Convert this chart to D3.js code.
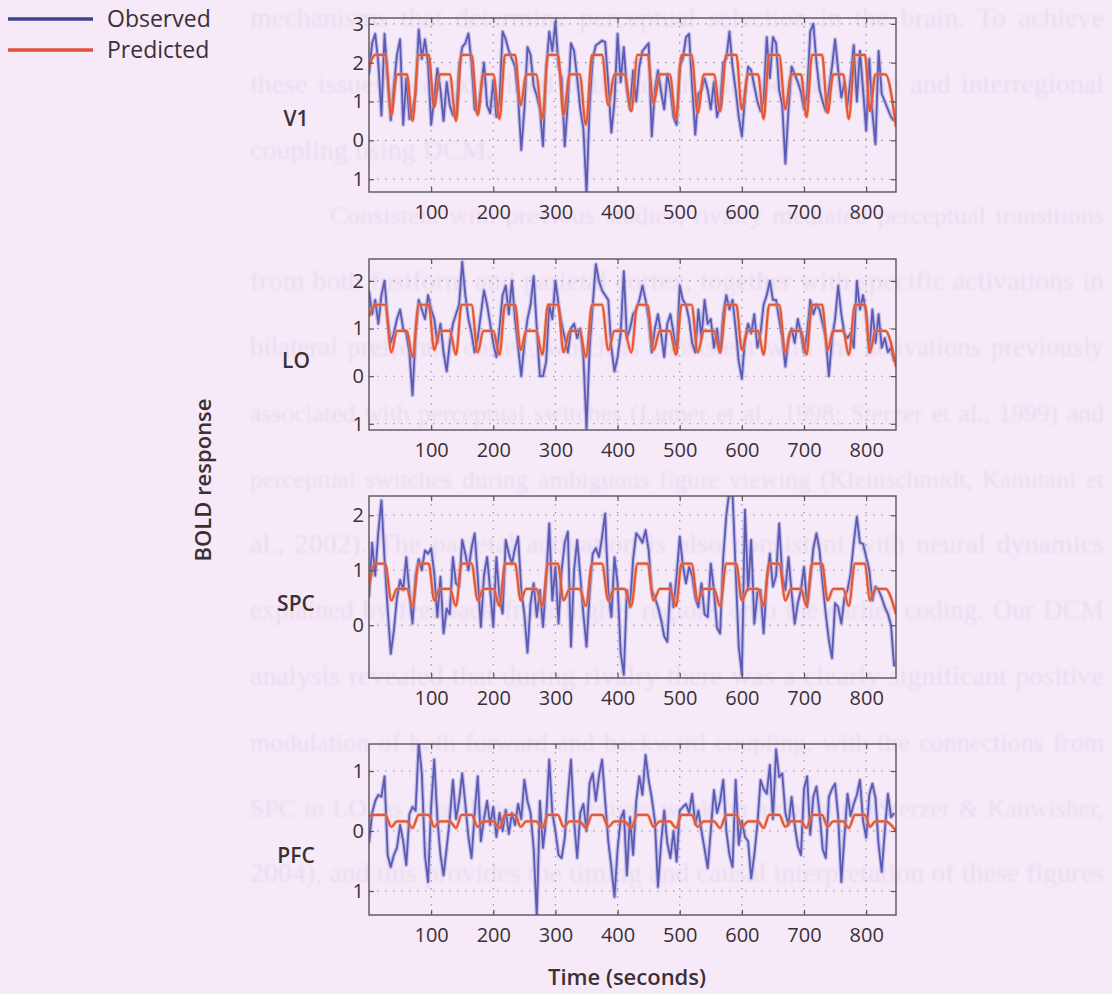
<!DOCTYPE html>
<html>
<head>
<meta charset="utf-8">
<script src="https://cdn.jsdelivr.net/npm/d3@7"></script>
<style>
  body { margin: 0; background: #f6e9f8; }
  svg { display: block; }
</style>
</head>
<body>
<svg id="chart" width="1112" height="994"></svg>
<script>
// ---- data ----
const regions = ["V1", "LO", "SPC", "PFC"];
const xTicks = [100, 200, 300, 400, 500, 600, 700, 800];
const seriesNames = ["Observed", "Predicted"];

// observed BOLD, one value every 5 s (0..845)
const v1Observed = [
  1.7, 2.5, 2.74, 2.0, 0.64, 2.74, 1.6, 0.52, 1.4, 2.2,
  2.6, 0.4, 1.6, 0.55, 0.77, 1.2, 2.85, 2.1, 2.6, 2.0,
  0.4, 1.1, 1.85, 1.3, 0.5, 1.5, 0.9, 0.65, 0.6, 1.9,
  2.4, 2.5, 2.75, 2.0, 0.8, 0.7, 1.3, 2.0, 0.9, 0.7,
  1.55, 0.6, 1.0, 2.8, 2.6, 2.3, 2.1, 1.9, 1.1, -0.25,
  0.8, 2.4, 2.2, 1.4, 1.15, 0.8, -0.15, 1.8, 2.8, 2.3,
  3.05, 1.9, 1.6, -0.15, 1.0, 2.5, 2.3, 1.6, 0.8, 0.3,
  -1.35, 0.9, 2.1, 2.45, 2.5, 2.57, 2.53, 1.46, 0.2, 1.0,
  2.74, 1.5, 2.4, 1.3, 0.8, 1.8, 1.0, 1.9, 2.3, 2.4,
  2.5, 0.1, 1.3, 1.8, 1.25, 0.8, 1.7, 1.3, 0.6, 0.4,
  1.9, 2.1, 2.65, 2.74, 1.4, 0.15, 1.2, 1.3, 1.6, 1.3,
  0.8, 1.5, 0.6, 0.9, 2.0, 2.1, 2.8, 1.9, 1.3, 0.6,
  0.1, 1.1, 1.9, 1.8, 1.4, 1.0, 0.75, 1.0, 2.66, 1.6,
  2.66, 2.5, 1.3, 0.9, -0.6, 0.8, 1.9, 1.7, 1.5, 1.25,
  0.8, 1.2, 2.8, 3.0, 2.0, 1.3, 1.0, 0.75, 1.3, 1.9,
  2.6, 1.8, 1.1, 1.5, 0.9, 1.6, 2.45, 1.0, 2.3, 1.3,
  0.25, 2.1, 0.7, -0.1, 2.3, 1.2, 1.0, 0.8, 0.6, 0.5
];
const loObserved = [
  1.8, 1.3, 1.6, 1.1, 1.7, 2.0, 1.2, 0.7, 0.9, 1.2,
  1.4, 1.0, 0.9, 0.5, -0.4, 0.9, 1.6, 1.4, 1.2, 1.7,
  1.4, 1.2, 0.7, 1.1, 0.5, 0.1, 0.7, 1.1, 1.3, 1.5,
  2.4, 1.7, 1.2, 0.9, 0.5, 0.8, 1.3, 1.8, 1.5, 1.1,
  0.7, 0.4, 1.0, 1.7, 1.9, 1.3, 2.0, 1.2, 0.6, 0.0,
  0.7, 1.2, 1.5, 2.1, 1.0, 0.0, 0.0, 0.3, 1.5, 1.2,
  2.0, 1.5, 1.1, 0.8, 0.5, 1.0, 1.1, 0.8, 1.0, 0.4,
  -1.1, 0.6, 1.5, 2.35, 2.0, 1.8, 1.7, 1.6, 0.6, 0.1,
  0.4, 0.9, 2.2, 0.8, 1.0, 1.3, 1.4, 1.6, 1.9, 1.6,
  1.2, 0.5, 1.0, 1.3, 0.9, 0.4, 1.1, 1.3, 0.9, 0.5,
  1.9, 1.6, 1.5, 1.2, 0.7, 0.5, 1.4, 0.8, 1.6, 1.1,
  1.2, 0.6, 1.0, 0.5, 1.3, 1.7, 1.4, 1.6, 1.0, 0.3,
  -0.05, 0.8, 1.1, 0.9, 1.3, 0.6, 0.9, 1.5, 1.7, 2.0,
  1.6, 1.6, 1.2, 0.8, 0.2, 0.8, 1.0, 0.7, 1.2, 0.9,
  0.5, 0.9, 1.6, 1.3, 1.5, 1.4, 1.1, 0.8, 0.0, 0.8,
  1.2, 1.9, 1.3, 0.9, 0.8, 0.9, 0.6, 2.0, 1.4, 1.7,
  1.3, 0.5, 1.4, 0.7, 1.3, 0.6, 0.8, 0.5, 0.6, 0.3
];
const spcObserved = [
  0.5, 1.5, 0.9, 1.7, 2.27, 1.2, 0.3, -0.52, -0.1, 0.5,
  0.82, 0.64, 1.24, 0.6, 0.03, 0.9, 1.2, 1.0, 1.36, 1.3,
  1.4, 0.94, 0.15, 0.88, -0.15, 0.3, 0.2, 1.24, 0.76, 0.7,
  1.55, 1.3, 1.0, 1.4, 1.67, 0.88, -0.03, 0.9, 1.24, 0.64,
  -0.03, 1.24, 0.5, 0.21, 1.55, 1.3, 1.12, 1.4, 1.61, 0.64,
  0.2, -0.5, 0.4, 0.76, 0.15, 0.64, -0.03, 0.82, 1.85, 0.45,
  1.06, 0.03, 1.0, 1.5, 1.7, -0.39, 1.0, 1.55, 0.9, 0.2,
  -0.39, 0.6, 1.3, 1.4, 1.24, 1.6, 2.03, 0.64, 0.15, 1.24,
  0.76, -0.5, -0.9, 0.64, 0.33, 1.2, 1.67, 1.6, 1.5, 1.73,
  1.36, 0.64, 0.5, 0.33, 0.1, -0.2, -0.3, 0.76, 0.33, 0.9,
  1.61, 1.1, 0.76, 1.06, 0.9, 0.5, 0.33, 0.76, 0.2, 0.15,
  1.12, 0.64, -0.05, -0.15, 1.24, 2.0, 2.45, 2.4, 1.0, -0.4,
  -0.9, 2.1, 0.64, 1.55, 0.03, 0.6, 0.64, -0.15, 0.8, 1.3,
  0.7, 0.9, 1.85, 0.9, 0.64, 1.24, 0.6, 0.03, 0.4, 0.64,
  1.06, 0.33, 0.82, 1.4, 1.67, 1.36, 0.76, 0.2, -0.27, -0.6,
  0.4, 0.33, 0.03, 0.5, 0.64, 0.94, 1.5, 1.97, 1.5, 1.48,
  1.24, 1.0, 0.45, 0.7, 0.64, 0.5, 0.33, 0.2, 0.0, -0.75
];
const pfcObserved = [
  -0.2, 0.3, 0.5, 0.6, 0.57, 0.91, -0.4, -0.6, -0.4, -0.28,
  0.1, -0.17, -0.57, 0.28, 0.4, 0.34, 1.47, 0.96, -0.4, -0.85,
  0.4, 1.19, 0.2, -0.4, -0.74, -0.28, 0.2, 0.85, 0.2, 0.5,
  0.96, 0.45, -0.1, -0.45, 0.3, 0.91, -0.17, 0.2, 0.5, 0.1,
  0.4, -0.1, 0.3, 0.0, 0.35, -0.05, 0.3, 0.1, 0.45, 0.2,
  0.85, 0.5, 0.3, -0.3, -1.42, 0.5, -0.28, 0.2, 1.19, 0.3,
  0.0, -0.4, -0.45, -0.11, 0.6, 1.19, 0.17, -0.45, 0.3, 0.45,
  0.0, 0.8, 0.96, 0.5, 0.91, 1.19, 0.51, -0.17, -0.6, -1.1,
  -0.3, 0.2, 0.34, -0.74, 0.23, -0.4, 0.5, 0.91, 0.6, 1.27,
  0.85, 0.55, 0.17, -0.93, -0.2, 0.34, -0.2, -0.45, 0.0, -0.51,
  0.34, 0.4, 0.45, 0.3, 0.62, 0.11, 0.34, 0.0, -0.3, -0.62,
  0.0, 0.68, 0.3, 0.5, 0.85, 0.0, -0.4, -0.6, 0.85, -0.23,
  0.17, -0.1, -0.17, -0.79, -0.4, 0.11, 0.85, 0.7, 0.62, 1.1,
  0.2, 1.36, 0.9, 0.96, 0.3, 0.1, 0.57, 0.1, -0.25, -0.4,
  0.7, 0.91, -0.06, 0.57, 0.74, 0.3, -0.3, -0.45, 0.57, 0.7,
  0.79, 0.23, -0.85, -0.1, 0.62, 0.25, 0.45, 0.6, 0.85, 0.17,
  -0.11, 0.6, 0.79, 0.55, -0.23, -0.68, 0.0, 0.62, 0.23, 0.3
];

// predicted response, read at block edges and troughs (seconds)
const predTimes = [
  0, 10, 26, 36, 45, 61, 70, 80, 96, 105, 114, 130, 140, 149, 165, 175,
  184, 200, 210, 219, 235, 244, 253, 269, 279, 288, 304, 313, 323, 339, 349,
  359, 375, 385, 395, 411, 422, 432, 448, 458, 468, 484, 494, 503, 519, 529,
  539, 555, 565, 575, 591, 600, 610, 626, 635, 644, 660, 670, 679, 695, 704,
  713, 729, 738, 747, 763, 772, 782, 798, 806, 815, 831, 848
];
const v1Predicted = [
  1.9, 2.2, 2.2, 0.65, 1.7, 1.7, 0.5, 2.2, 2.2, 0.85, 1.7, 1.7, 0.5, 2.2, 2.2, 0.65,
  1.7, 1.7, 0.55, 2.2, 2.2, 0.9, 1.7, 1.7, 0.55, 2.2, 2.2, 0.65, 1.7, 1.7, 0.4,
  2.2, 2.2, 0.9, 1.7, 1.7, 0.75, 2.2, 2.2, 0.95, 1.7, 1.7, 0.55, 2.2, 2.2, 0.7,
  1.7, 1.7, 0.75, 2.2, 2.2, 0.8, 1.7, 1.7, 0.55, 2.2, 2.2, 0.8, 1.7, 1.7, 0.6,
  2.2, 2.2, 0.7, 1.7, 1.7, 0.55, 2.2, 2.2, 0.75, 1.7, 1.7, 0.35
];
const loPredicted = [
  1.25, 1.5, 1.5, 0.5, 0.95, 0.95, 0.4, 1.5, 1.5, 0.55, 0.95, 0.95, 0.45, 1.5, 1.5, 0.5,
  0.95, 0.95, 0.45, 1.5, 1.5, 0.55, 0.95, 0.95, 0.45, 1.5, 1.5, 0.5, 0.95, 0.95, 0.4,
  1.5, 1.5, 0.55, 0.95, 0.95, 0.5, 1.5, 1.5, 0.55, 0.95, 0.95, 0.45, 1.5, 1.5, 0.5,
  0.95, 0.95, 0.5, 1.5, 1.5, 0.55, 0.95, 0.95, 0.45, 1.5, 1.5, 0.5, 0.95, 0.95, 0.45,
  1.5, 1.5, 0.55, 0.95, 0.95, 0.45, 1.5, 1.5, 0.5, 0.95, 0.95, 0.2
];
const spcPredicted = [
  0.7, 1.12, 1.12, 0.45, 0.66, 0.66, 0.35, 1.12, 1.12, 0.45, 0.66, 0.66, 0.35, 1.12, 1.12, 0.45,
  0.66, 0.66, 0.35, 1.12, 1.12, 0.45, 0.66, 0.66, 0.35, 1.12, 1.12, 0.45, 0.66, 0.66, 0.35,
  1.12, 1.12, 0.45, 0.66, 0.66, 0.35, 1.12, 1.12, 0.45, 0.66, 0.66, 0.35, 1.12, 1.12, 0.45,
  0.66, 0.66, 0.35, 1.12, 1.12, 0.45, 0.66, 0.66, 0.35, 1.12, 1.12, 0.45, 0.66, 0.66, 0.35,
  1.12, 1.12, 0.45, 0.66, 0.66, 0.35, 1.12, 1.12, 0.45, 0.66, 0.66, 0.2
];
const pfcPredicted = [
  0.25, 0.27, 0.27, 0.07, 0.16, 0.16, 0.05, 0.27, 0.27, 0.07, 0.16, 0.16, 0.05, 0.27, 0.27, 0.07,
  0.16, 0.16, 0.05, 0.27, 0.27, 0.07, 0.16, 0.16, 0.05, 0.27, 0.27, 0.07, 0.16, 0.16, 0.05,
  0.27, 0.27, 0.07, 0.16, 0.16, 0.05, 0.27, 0.27, 0.07, 0.16, 0.16, 0.05, 0.27, 0.27, 0.07,
  0.16, 0.16, 0.05, 0.27, 0.27, 0.07, 0.16, 0.16, 0.05, 0.27, 0.27, 0.07, 0.16, 0.16, 0.05,
  0.27, 0.27, 0.07, 0.16, 0.16, 0.05, 0.27, 0.27, 0.07, 0.16, 0.16, 0.0
];

// y ticks (the minus signs are lost in the scan, labels shown as printed)
const v1Ticks = [-1, 0, 1, 2, 3];
const v1TickLabels = ["1", "0", "1", "2", "3"];
const loTicks = [-1, 0, 1, 2];
const loTickLabels = ["1", "0", "1", "2"];
const spcTicks = [0, 1, 2];
const spcTickLabels = ["0", "1", "2"];
const pfcTicks = [-1, 0, 1];
const pfcTickLabels = ["1", "0", "1"];

// text of the page showing through behind the figure
const pageLines = [
  "mechanisms that determine perceptual selection in the brain. To achieve",
  "these issues, we examined both functional specialisation and interregional",
  "coupling using DCM.",
  "Consistent with previous studies, rivalry mediated perceptual transitions",
  "from both fusiform and parietal cortex, together with specific activations in",
  "bilateral prefrontal cortex, which is consistent with the activations previously",
  "associated with perceptual switches (Lumer et al., 1998; Sterzer et al., 1999) and",
  "perceptual switches during ambiguous figure viewing (Kleinschmidt, Kamitani et",
  "al., 2002). The parietal activation is also consistent with neural dynamics",
  "explained by feedback from higher regions onto the earlier coding. Our DCM",
  "analysis revealed that during rivalry there was a clearly significant positive",
  "modulation of both forward and backward coupling, with the connections from",
  "SPC to LO, as was shown in previous work on ambiguity (Sterzer & Kanwisher,",
  "2004), and this provides the timing and causal interpretation of these figures"
];

// ---- drawing ----
const W = 1112, H = 994;
const obsTimes = d3.range(0, 850, 5);
const colObs = "#5b5bb4", colObsHalo = "#a7a4de", colPred = "#e4573a";
const textCol = "#3b3036";
const font = "'Open Sans', 'Noto Sans', sans-serif";

const svg = d3.select("#chart");
const defs = svg.append("defs");
defs.append("filter").attr("id", "soft")
  .append("feGaussianBlur").attr("stdDeviation", 1.3);

svg.append("rect").attr("width", W).attr("height", H).attr("fill", "#f6e9f8");

// faint page text, justified between the page margins
const pageRight = 1104;
const pageG = svg.append("g")
  .attr("filter", "url(#soft)")
  .attr("font-family", "'Liberation Serif', 'DejaVu Serif', serif")
  .attr("fill", "#e9dcee");
pageLines.forEach((s, i) => {
  const x0 = i == 3 ? 330 : 250;
  const t = pageG.append("text")
    .attr("x", x0)
    .attr("y", 27 + i * 65.8)
    .attr("font-size", 28)
    .text(s);
  if (i == 2) return;
  let len = t.node().getComputedTextLength();
  if (len > pageRight - x0) {
    t.attr("font-size", 28 * (pageRight - x0) / len * 0.97);
    len = t.node().getComputedTextLength();
  }
  const gaps = s.split(" ").length - 1;
  t.attr("word-spacing", (pageRight - x0 - len) / gaps);
});

const x = d3.scaleLinear().domain([0, 848]).range([369, 896]);
const xL = x.range()[0], xR = x.range()[1];

const panels = [
  { name: regions[0], obs: v1Observed, pred: v1Predicted, ticks: v1Ticks, labels: v1TickLabels },
  { name: regions[1], obs: loObserved, pred: loPredicted, ticks: loTicks, labels: loTickLabels },
  { name: regions[2], obs: spcObserved, pred: spcPredicted, ticks: spcTicks, labels: spcTickLabels },
  { name: regions[3], obs: pfcObserved, pred: pfcPredicted, ticks: pfcTicks, labels: pfcTickLabels }
];
// panel frames on the page
const frames = [
  { top: 18, bottom: 192, domain: [-1.33, 3.15], labelY: 126 },
  { top: 259, bottom: 430, domain: [-1.13, 2.46], labelY: 368 },
  { top: 496, bottom: 678, domain: [-0.96, 2.35], labelY: 611 },
  { top: 744, bottom: 915, domain: [-1.4, 1.45], labelY: 863 }
];

function styleAxis(g) {
  g.select(".domain").remove();
  g.attr("color", "#5b5359");
  g.selectAll(".tick line").attr("stroke-width", 1.2);
  g.selectAll("text")
    .attr("font-family", font)
    .attr("font-size", 20)
    .attr("fill", textCol);
}

panels.forEach((p, i) => {
  const f = frames[i];
  const y = d3.scaleLinear().domain(f.domain).range([f.bottom, f.top]);
  const g = svg.append("g");

  // dotted grid
  g.append("g").selectAll("line").data(xTicks).join("line")
    .attr("x1", d => x(d)).attr("x2", d => x(d))
    .attr("y1", f.top).attr("y2", f.bottom)
    .attr("stroke", "#958d9a").attr("stroke-width", 1.1)
    .attr("stroke-dasharray", "1.5,6.5");
  g.append("g").selectAll("line").data(p.ticks).join("line")
    .attr("x1", xL).attr("x2", xR)
    .attr("y1", d => y(d)).attr("y2", d => y(d))
    .attr("stroke", "#958d9a").attr("stroke-width", 1.1)
    .attr("stroke-dasharray", "1.5,6.5");

  defs.append("clipPath").attr("id", "clip" + i)
    .append("rect")
    .attr("x", xL).attr("y", f.top)
    .attr("width", xR - xL).attr("height", f.bottom - f.top);
  const plot = g.append("g").attr("clip-path", `url(#clip${i})`);

  const obsLine = d3.line()
    .x((d, j) => x(obsTimes[j]))
    .y(d => y(d));
  plot.append("path").datum(p.obs)
    .attr("d", obsLine)
    .attr("fill", "none")
    .attr("stroke", colObsHalo)
    .attr("stroke-opacity", 0.6)
    .attr("stroke-width", 4.2)
    .attr("stroke-linejoin", "round");
  plot.append("path").datum(p.obs)
    .attr("d", obsLine)
    .attr("fill", "none")
    .attr("stroke", colObs)
    .attr("stroke-width", 1.8)
    .attr("stroke-linejoin", "round");

  const predLine = d3.line()
    .x((d, j) => x(predTimes[j]))
    .y(d => y(d))
    .curve(d3.curveMonotoneX);
  plot.append("path").datum(p.pred)
    .attr("d", predLine)
    .attr("fill", "none")
    .attr("stroke", "#f0a070")
    .attr("stroke-opacity", 0.5)
    .attr("stroke-width", 3.8);
  plot.append("path").datum(p.pred)
    .attr("d", predLine)
    .attr("fill", "none")
    .attr("stroke", colPred)
    .attr("stroke-width", 2.2)
    .attr("stroke-linejoin", "round");

  // axes with inward ticks
  g.append("g").attr("transform", `translate(0,${f.bottom})`)
    .call(d3.axisBottom(x).tickValues(xTicks).tickSize(-5).tickPadding(13))
    .call(styleAxis);
  g.append("g").attr("transform", `translate(0,${f.top})`)
    .call(d3.axisTop(x).tickValues(xTicks).tickSize(-5).tickFormat(""))
    .call(styleAxis);
  g.append("g").attr("transform", `translate(${xL},0)`)
    .call(d3.axisLeft(y).tickValues(p.ticks).tickSize(-5).tickPadding(5)
      .tickFormat((d, k) => p.labels[k]))
    .call(styleAxis);
  g.append("g").attr("transform", `translate(${xR},0)`)
    .call(d3.axisRight(y).tickValues(p.ticks).tickSize(-5).tickFormat(""))
    .call(styleAxis);

  g.append("rect")
    .attr("x", xL).attr("y", f.top)
    .attr("width", xR - xL).attr("height", f.bottom - f.top)
    .attr("fill", "none")
    .attr("stroke", "#5b5359")
    .attr("stroke-width", 1.4);

  // region name
  svg.append("text")
    .attr("x", 296).attr("y", f.labelY)
    .attr("text-anchor", "middle")
    .attr("font-family", font)
    .attr("font-size", 21)
    .attr("font-weight", 600)
    .attr("fill", textCol)
    .text(p.name);
});

// axis titles
svg.append("text")
  .attr("transform", "translate(211,480) rotate(-90)")
  .attr("text-anchor", "middle")
  .attr("font-family", font)
  .attr("font-size", 22)
  .attr("font-weight", 600)
  .attr("fill", textCol)
  .text("BOLD response");
svg.append("text")
  .attr("x", 627).attr("y", 985)
  .attr("text-anchor", "middle")
  .attr("font-family", font)
  .attr("font-size", 22)
  .attr("font-weight", 600)
  .attr("fill", textCol)
  .text("Time (seconds)");

// legend
const legend = svg.append("g");
const legendCols = ["#3d4590", "#e0503a"];
seriesNames.forEach((s, i) => {
  legend.append("line")
    .attr("x1", 8).attr("x2", 93)
    .attr("y1", 19 + i * 31).attr("y2", 19 + i * 31)
    .attr("stroke", legendCols[i])
    .attr("stroke-width", 3.5);
  legend.append("text")
    .attr("x", 107).attr("y", 27 + i * 31)
    .attr("font-family", font)
    .attr("font-size", 23)
    .attr("fill", textCol)
    .text(s);
});
</script>
</body>
</html>
